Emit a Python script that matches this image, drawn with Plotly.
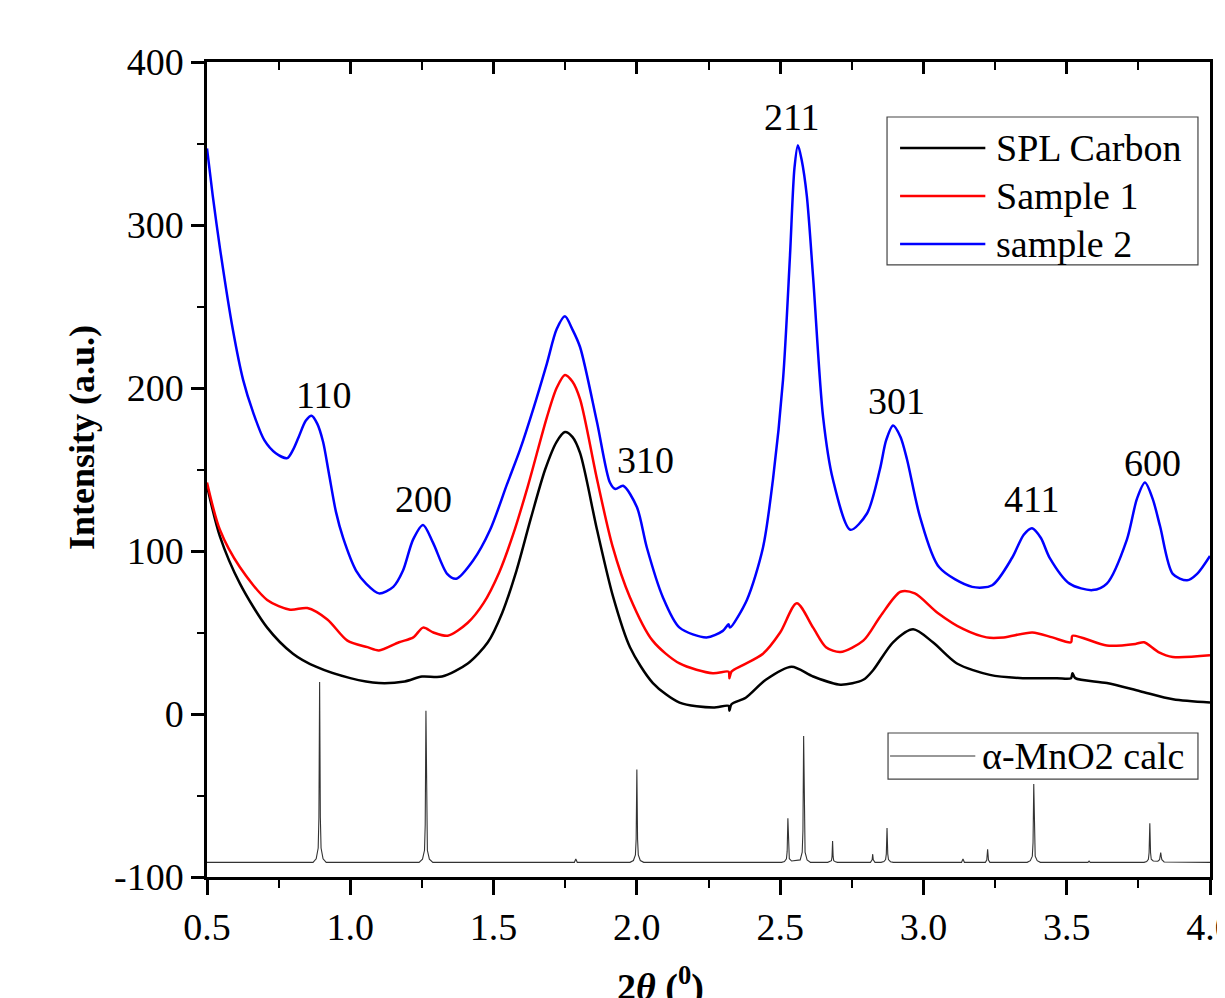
import plotly.graph_objects as go

# ---- data ----
series_names = ['SPL Carbon', 'Sample 1', 'sample 2']
series_colors = ['#000000', '#ff0000', '#0000ff']

spl_x = [0.500, 0.545, 0.615, 0.710, 0.800, 0.880, 1.000, 1.100, 1.190, 1.250, 1.320,
         1.410, 1.480, 1.530, 1.580, 1.630, 1.680, 1.720, 1.749, 1.775, 1.802, 1.861,
         1.917, 1.976, 2.056, 2.149, 2.266, 2.320, 2.323, 2.330, 2.380, 2.450, 2.540,
         2.615, 2.710, 2.790, 2.825, 2.894, 2.964, 3.033, 3.117, 3.232, 3.347, 3.466,
         3.515, 3.520, 3.530, 3.640, 3.756, 3.871, 4.000]
spl_y = [140, 109, 80, 53, 37, 29, 22, 19, 20, 23, 23,
         31, 44, 62, 88, 120, 150, 167, 173, 170, 160, 113,
         72, 41, 19, 7, 4, 5, 2, 6, 10, 21, 29,
         23, 18, 21, 27, 44, 52, 44, 31, 24, 22, 22,
         22, 25, 22, 19, 14, 9, 7]

s1_x = [0.500, 0.545, 0.615, 0.710, 0.790, 0.850, 0.920, 0.990, 1.060, 1.100, 1.170,
        1.220, 1.254, 1.290, 1.340, 1.410, 1.465, 1.520, 1.568, 1.620, 1.686, 1.720,
        1.749, 1.775, 1.802, 1.861, 1.915, 1.975, 2.055, 2.149, 2.265, 2.320, 2.323,
        2.330, 2.370, 2.440, 2.500, 2.558, 2.615, 2.660, 2.710, 2.790, 2.850, 2.920,
        2.970, 3.050, 3.140, 3.220, 3.280, 3.380, 3.450, 3.515, 3.520, 3.640, 3.740,
        3.770, 3.820, 3.870, 4.000]
s1_y = [142, 113, 90, 70, 64, 65, 58, 45, 41, 39, 44,
        47, 53, 50, 48, 56, 68, 87, 110, 140, 182, 200,
        208, 204, 193, 144, 103, 72, 45, 31, 25, 26, 22,
        26, 30, 37, 50, 68, 53, 41, 38, 45, 60, 75,
        74, 62, 52, 47, 47, 50, 47, 44, 48, 42, 43,
        44, 38, 35, 36]

s2_x = [0.500, 0.520, 0.545, 0.590, 0.626, 0.661, 0.700, 0.740, 0.780, 0.800, 0.820,
        0.845, 0.865, 0.885, 0.905, 0.925, 0.950, 0.975, 1.020, 1.055, 1.100, 1.150,
        1.184, 1.219, 1.254, 1.289, 1.338, 1.370, 1.428, 1.488, 1.547, 1.592, 1.640,
        1.686, 1.720, 1.749, 1.775, 1.802, 1.861, 1.906, 1.925, 1.952, 2.000, 2.035,
        2.090, 2.149, 2.243, 2.300, 2.320, 2.325, 2.384, 2.440, 2.475, 2.510, 2.534,
        2.550, 2.562, 2.575, 2.593, 2.615, 2.650, 2.684, 2.745, 2.803, 2.848, 2.870,
        2.894, 2.920, 2.943, 2.988, 3.055, 3.170, 3.240, 3.310, 3.350, 3.379, 3.410,
        3.440, 3.510, 3.590, 3.640, 3.710, 3.745, 3.773, 3.800, 3.826, 3.870, 3.920,
        3.955, 4.000]
s2_y = [347, 318, 286, 236, 205, 185, 168, 160, 157, 162, 170,
        180, 183, 178, 167, 148, 124, 108, 88, 80, 74, 78,
        88, 107, 116, 105, 86, 83, 94, 113, 141, 162, 188,
        215, 236, 244, 236, 225, 179, 142, 138, 140, 127, 102,
        72, 53, 47, 51, 55, 53, 70, 102, 144, 205, 280,
        335, 349, 340, 318, 268, 182, 144, 113, 123, 150, 168,
        177, 170, 156, 121, 90, 78, 79, 96, 110, 114, 108,
        96, 80, 76, 80, 107, 132, 142, 132, 115, 86, 82,
        86, 97]

calc_name = '\u03b1-MnO2 calc'
calc_x = [0.500, 0.870, 0.881, 0.888, 0.8905, 0.893, 0.8955, 0.898, 0.905, 0.916,
          1.240, 1.252, 1.259, 1.2615, 1.264, 1.2665, 1.269, 1.276, 1.288,
          1.782, 1.787, 1.792,
          1.976, 1.988, 1.995, 1.9975, 2.000, 2.0025, 2.005, 2.012, 2.024,
          2.505, 2.515, 2.522, 2.5245, 2.527, 2.5295, 2.532, 2.540,
          2.570, 2.577, 2.5795, 2.582, 2.5845, 2.587, 2.594, 2.606,
          2.666, 2.673, 2.679, 2.681, 2.683, 2.685, 2.687, 2.693, 2.700,
          2.815, 2.821, 2.823, 2.825, 2.831,
          2.852, 2.862, 2.868, 2.8705, 2.873, 2.8755, 2.878, 2.885, 2.895,
          3.133, 3.138, 3.143,
          3.216, 3.221, 3.224, 3.227, 3.232,
          3.362, 3.373, 3.380, 3.3825, 3.385, 3.3875, 3.390, 3.397, 3.408,
          3.574, 3.578, 3.582,
          3.770, 3.779, 3.785, 3.7875, 3.790, 3.7925, 3.795, 3.802,
          3.818, 3.824, 3.826, 3.828, 3.830, 3.832, 3.840, 4.000]
calc_y = [-91, -91, -88.8, -82.2, -63.4, 19.6, -63.4, -82.2, -88.8, -91,
          -91, -89.1, -83.6, -67.8, 2, -67.8, -83.6, -89.1, -91,
          -91, -89, -91,
          -91, -89.9, -86.4, -76.8, -34, -76.8, -86.4, -89.9, -91,
          -91, -90.5, -88.8, -84.3, -64, -84.3, -88.8, -90.2,
          -89.5, -84.8, -71.6, -13.5, -71.6, -84.8, -89.5, -91,
          -91, -90.7, -90, -87.7, -78, -87.7, -90, -90.7, -91,
          -91, -89.5, -86, -89.5, -91,
          -91, -90.5, -89.3, -85.8, -70, -85.8, -89.3, -90.6, -91,
          -91, -89, -91,
          -91, -89.6, -83, -89.6, -91,
          -91, -90, -87.2, -79, -43, -79, -87.2, -90, -91,
          -91, -90.2, -91,
          -91, -90.5, -89.1, -85, -67, -85, -89.1, -90.2,
          -90.3, -89.4, -87.5, -85, -87.5, -89.4, -90.8, -91]

y_ticks = [-100, 0, 100, 200, 300, 400]
y_tick_text = ['-100', '0', '100', '200', '300', '400']

peak_labels = ['110', '200', '310', '211', '301', '411', '600']

FONT = 'Liberation Serif'

# the page body has an 8px margin, so the figure is 8px smaller
# and the margins are shifted so the plot area lands at 207..1210 x 62..877
fig = go.Figure()

for name, color, xs, ys in zip(series_names, series_colors,
                               [spl_x, s1_x, s2_x], [spl_y, s1_y, s2_y]):
    fig.add_trace(go.Scatter(x=xs, y=ys, mode='lines', name=name,
                             line=dict(color=color, width=2.5, shape='spline', smoothing=0.8)))

fig.add_trace(go.Scatter(x=calc_x, y=calc_y, mode='lines', name=calc_name,
                         xaxis='x2', line=dict(color='#333333', width=1.1)))

axis_font = dict(family=FONT, size=38, color='black')

fig.update_layout(
    width=1217, height=990,
    autosize=False,
    margin=dict(l=199, r=15, t=54, b=121, autoexpand=False),
    plot_bgcolor='white',
    paper_bgcolor='white',
    showlegend=False,
    xaxis=dict(
        range=[0.5, 4.0], dtick=0.5, tick0=0.5, tickformat='.1f',
        showgrid=False, zeroline=False,
        showline=True, linecolor='black', linewidth=2.5, mirror=True,
        ticks='outside', ticklen=15, tickwidth=2.5, tickcolor='black',
        minor=dict(dtick=0.25, tick0=0.5, ticks='outside', ticklen=8,
                   tickwidth=2, tickcolor='black'),
        tickfont=axis_font,
        ticklabeloverflow='allow',
    ),
    xaxis2=dict(
        range=[0.5, 4.0], overlaying='x', side='top', dtick=0.5, tick0=0.5,
        showgrid=False, zeroline=False, showline=False, showticklabels=False,
        ticks='inside', ticklen=12, tickwidth=2.5, tickcolor='black',
        minor=dict(dtick=0.25, tick0=0.5, ticks='inside', ticklen=8,
                   tickwidth=2, tickcolor='black'),
    ),
    yaxis=dict(
        range=[-100, 400], tickvals=y_ticks, ticktext=y_tick_text,
        showgrid=False, zeroline=False,
        showline=True, linecolor='black', linewidth=2.5, mirror=True,
        ticks='outside', ticklen=13, tickwidth=2.5, tickcolor='black',
        minor=dict(dtick=50, tick0=0, ticks='outside', ticklen=7,
                   tickwidth=2, tickcolor='black'),
        tickfont=axis_font,
    ),
)

annotations = []

# y axis title
annotations.append(dict(x=(82 - 207) / 1003, y=(877 - 438) / 815, xref='paper', yref='paper',
                        text='<b>Intensity (a.u.)</b>', showarrow=False, textangle=-90,
                        xanchor='center', yanchor='middle',
                        font=dict(family=FONT, size=36, color='black')))

# hkl labels above the sample 2 peaks
label_pos = [(0.91, 196), (1.254, 132), (2.03, 156), (2.54, 366),
             (2.905, 192), (3.38, 132), (3.80, 154)]
for text, (lx, ly) in zip(peak_labels, label_pos):
    annotations.append(dict(x=lx, y=ly, xref='x', yref='y', text=text, showarrow=False,
                            xanchor='center', yanchor='middle',
                            font=dict(family=FONT, size=38, color='black')))

# x axis title (partly cut at the bottom like the original)
annotations.append(dict(x=(660 - 207) / 1003, y=(877 - 958) / 815, xref='paper', yref='paper',
                        text='<b>2<i>\u03b8</i> (<sup>0</sup>)</b>', showarrow=False,
                        xanchor='center', yanchor='top',
                        font=dict(family=FONT, size=38, color='black')))

shapes = []

# legend for the measured patterns
shapes.append(dict(type='rect', xref='paper', yref='paper', x0=0.678, x1=0.988,
                   y0=0.751, y1=0.9325, line=dict(color='#444444', width=1.2)))
for name, color, ry in zip(series_names, series_colors, [0.8945, 0.8356, 0.7767]):
    shapes.append(dict(type='line', xref='paper', yref='paper', x0=0.691, x1=0.776,
                       y0=ry, y1=ry, line=dict(color=color, width=2.5)))
    annotations.append(dict(x=0.785, y=ry, xref='paper', yref='paper', text=name,
                            showarrow=False, xanchor='left', yanchor='middle',
                            font=dict(family=FONT, size=38, color='black')))

# legend for the calculated pattern
shapes.append(dict(type='rect', xref='paper', yref='paper', x0=0.679, x1=0.988,
                   y0=0.1202, y1=0.1767, line=dict(color='#444444', width=1.2)))
shapes.append(dict(type='line', xref='paper', yref='paper', x0=0.681, x1=0.766,
                   y0=0.1485, y1=0.1485, line=dict(color='#333333', width=1.1)))
annotations.append(dict(x=0.771, y=0.1485, xref='paper', yref='paper', text=calc_name,
                        showarrow=False, xanchor='left', yanchor='middle',
                        font=dict(family=FONT, size=38, color='black')))

fig.update_layout(annotations=annotations, shapes=shapes)

fig.write_html('out.html')
